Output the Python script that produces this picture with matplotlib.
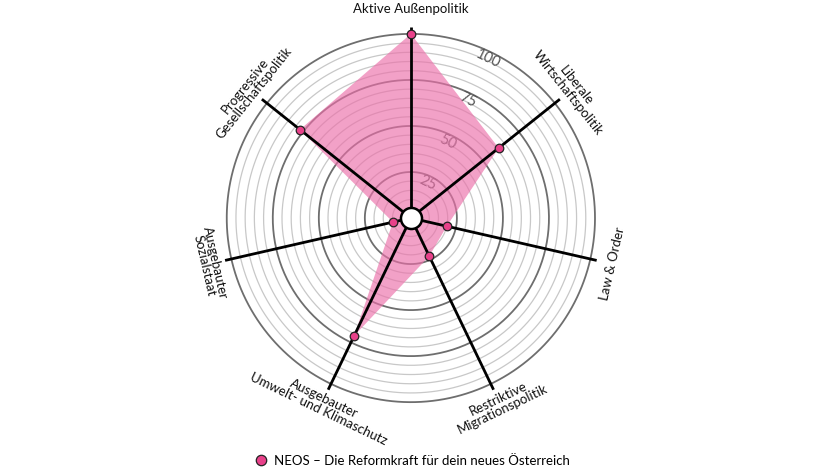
import numpy as np
import matplotlib
matplotlib.use('Agg')
import matplotlib.pyplot as plt
from matplotlib.lines import Line2D

plt.rcParams['font.family'] = ['Lato', 'DejaVu Sans']

categories = ['Aktive Außenpolitik', 'Liberale\nWirtschaftspolitik', 'Law & Order',
              'Restriktive\nMigrationspolitik', 'Ausgebauter\nUmwelt- und Klimaschutz',
              'Ausgebauter\nSozialstaat', 'Progressive\nGesellschaftspolitik']
values = [100, 61, 20, 23, 71, 10, 77]
party = 'NEOS – Die Reformkraft für dein neues Österreich'
ring_ticks = [25, 50, 75, 100]

pink = '#e8418a'
fill = '#ec6fa9'

fig = plt.figure(figsize=(8.17, 4.67), dpi=100)
ax = fig.add_axes([0.2685, 0.1231, 0.4688, 0.8201], projection='polar')
ax.set_theta_zero_location('N')
ax.set_theta_direction(-1)
ax.set_ylim(0, 104)
ax.axis('off')

n = len(categories)
angles = np.arange(n) * 2 * np.pi / n
full = np.linspace(0, 2 * np.pi, 400)

# grid rings: light every 5, dark every 25
for r in range(5, 101, 5):
    if r % 25 == 0:
        ax.plot(full, [r] * len(full), color='#6e6e6e', lw=1.3, zorder=1)
    else:
        ax.plot(full, [r] * len(full), color='#c8c8c8', lw=0.9, zorder=1)

lab_ang = np.pi / n
for t in ring_ticks:
    ax.text(lab_ang, t - 4, str(t), ha='center', va='center', fontsize=10.5,
            color='#555555', rotation=-np.degrees(lab_ang), zorder=1)

# filled area
a_closed = np.append(angles, angles[0])
v_closed = np.append(values, values[0])
ax.fill(a_closed, v_closed, color=fill, alpha=0.65, lw=0, zorder=2)

# spokes
for a in angles:
    ax.plot([a, a], [0, 103.5], color='black', lw=2.0, zorder=3, solid_capstyle='butt')

# markers
ax.scatter(angles, values, s=38, color=pink, edgecolors='#222222', linewidths=0.9, zorder=5)

# centre hole
ax.scatter([0], [0], s=230, color='white', edgecolors='black', linewidths=1.8, zorder=6)

# axis labels
for a, lab in zip(angles, categories):
    deg = np.degrees(a)
    if 90 < deg < 270:
        rot = 180 - deg
    else:
        rot = -deg
    r_lab = 113.5 if a == 0 else 112
    ax.text(a, r_lab, lab, ha='center', va='center', rotation=rot,
            rotation_mode='anchor', fontsize=9.5, color='#111111',
            linespacing=0.95)

# legend
handle = Line2D([], [], marker='o', ls='', markersize=7.5, markerfacecolor=pink,
                markeredgecolor='#222222', markeredgewidth=0.9)
fig.legend([handle], [party], loc='center', bbox_to_anchor=(0.5, 0.013),
           frameon=False, fontsize=9.5, handletextpad=0.0, borderaxespad=0)

fig.savefig('out.png', dpi=100)
